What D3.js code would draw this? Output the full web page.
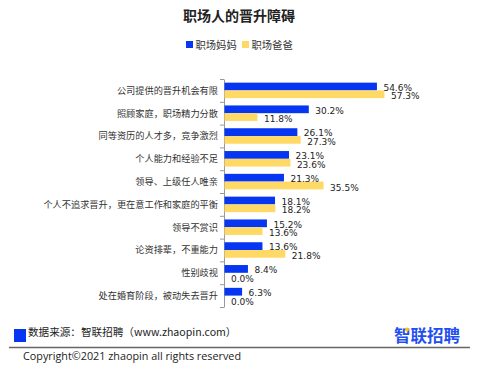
<!DOCTYPE html>
<meta charset="utf-8">
<style>
body { margin: 0; background: #fff; }
svg { display: block; }
.cat-label { font: 9.2px "Noto Sans CJK SC", sans-serif; fill: #333; }
.val-label { font: 9px "DejaVu Sans", sans-serif; fill: #222; }
.axis path, .axis line { stroke: #999; }
</style>
<body>
<script src="https://cdn.jsdelivr.net/npm/d3@7"></script>
<script>

// data
var categories = ["公司提供的晋升机会有限", "照顾家庭，职场精力分散", "同等资历的人才多，竞争激烈",
  "个人能力和经验不足", "领导、上级任人唯亲", "个人不追求晋升，更在意工作和家庭的平衡",
  "领导不赏识", "论资排辈，不重能力", "性别歧视", "处在婚育阶段，被动失去晋升"];
var seriesNames = ["职场妈妈", "职场爸爸"];
var moms = [54.6, 30.2, 26.1, 23.1, 21.3, 18.1, 15.2, 13.6, 8.4, 6.3];
var dads = [57.3, 11.8, 27.3, 23.6, 35.5, 18.2, 13.6, 21.8, 0.0, 0.0];
var colors = ["#0636f2", "#ffd966"];

var rows = categories.map(function(c, i) {
  return { cat: c, values: [moms[i], dads[i]] };
});

var svg = d3.select("body").append("svg")
    .attr("width", 478)
    .attr("height", 375);

// title
svg.append("text")
    .attr("x", 239)
    .attr("y", 21)
    .attr("text-anchor", "middle")
    .style("font", "bold 14px 'Noto Sans CJK SC', sans-serif")
    .attr("fill", "#222")
    .text("职场人的晋升障碍");

// legend
var legendX = [186, 242];
seriesNames.forEach(function(name, i) {
  svg.append("rect")
      .attr("x", legendX[i])
      .attr("y", 41)
      .attr("width", 7)
      .attr("height", 7)
      .attr("fill", colors[i]);
  svg.append("text")
      .attr("x", legendX[i] + 9.5)
      .attr("y", 48.5)
      .style("font", "10.3px 'Noto Sans CJK SC', sans-serif")
      .attr("fill", "#333")
      .text(name);
});

// scales
var x = d3.scaleLinear()
    .domain([0, 60])
    .range([224, 391.5]);

var y = d3.scaleBand()
    .domain(categories)
    .range([79, 307]);

var ySub = d3.scaleBand()
    .domain([0, 1])
    .range([0, y.bandwidth()])
    .paddingOuter(0.47);

// boundary ticks on the axis
var yEdge = d3.scaleLinear()
    .domain([0, categories.length])
    .range(y.range());

svg.append("g")
    .attr("class", "axis")
    .attr("transform", "translate(224,0)")
    .call(d3.axisLeft(yEdge)
      .tickValues(d3.range(categories.length + 1))
      .tickSize(4)
      .tickSizeOuter(0)
      .tickFormat(""));

// category labels
svg.selectAll(".cat-label")
    .data(rows)
    .enter().append("text")
    .attr("class", "cat-label")
    .attr("x", 218)
    .attr("y", function(d) { return y(d.cat) + y.bandwidth() / 2 + 3.4; })
    .attr("text-anchor", "end")
    .text(function(d) { return d.cat; });

// bars
var groups = svg.selectAll(".row")
    .data(rows)
    .enter().append("g")
    .attr("class", "row")
    .attr("transform", function(d) { return "translate(0," + y(d.cat) + ")"; });

groups.selectAll("rect")
    .data(function(d) { return d.values; })
    .enter().append("rect")
    .attr("x", x(0) + 0.5)
    .attr("y", function(d, i) { return ySub(i); })
    .attr("width", function(d) { return Math.max(0, x(d) - x(0)); })
    .attr("height", ySub.bandwidth())
    .attr("fill", function(d, i) { return colors[i]; });

groups.selectAll(".val-label")
    .data(function(d) { return d.values; })
    .enter().append("text")
    .attr("class", "val-label")
    .attr("x", function(d) { return x(d) + 7; })
    .attr("y", function(d, i) { return ySub(i) + ySub.bandwidth() / 2 + 4.3 + i * 0.8; })
    .text(function(d) { return d.toFixed(1) + "%"; });

// footer
svg.append("rect")
    .attr("x", 14)
    .attr("y", 329)
    .attr("width", 12)
    .attr("height", 13)
    .attr("fill", colors[0]);

svg.append("text")
    .attr("x", 28)
    .attr("y", 336)
    .style("font", "10.6px 'Noto Sans CJK SC', sans-serif")
    .attr("fill", "#222")
    .text("数据来源：智联招聘（www.zhaopin.com）");

svg.append("text")
    .attr("x", 394)
    .attr("y", 342)
    .style("font", "bold 16.5px 'Noto Sans CJK SC', sans-serif")
    .attr("fill", "#1f4ff0")
    .text("智联招聘");

svg.append("circle")
    .attr("cx", 407)
    .attr("cy", 329.5)
    .attr("r", 2)
    .attr("fill", "#ffc400");

svg.append("line")
    .attr("x1", 9)
    .attr("x2", 470)
    .attr("y1", 347.5)
    .attr("y2", 347.5)
    .attr("stroke", "#666")
    .attr("stroke-width", 1.3);

svg.append("text")
    .attr("x", 23)
    .attr("y", 359.5)
    .style("font", "10.8px 'Open Sans', sans-serif")
    .attr("fill", "#222")
    .text("Copyright©2021 zhaopin all rights reserved");

</script>
